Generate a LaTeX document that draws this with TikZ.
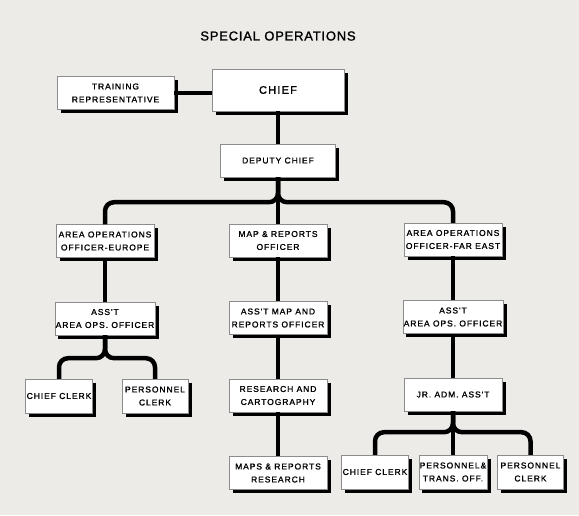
\documentclass[tikz,border=0pt]{standalone}
\usepackage{fontspec}
\setmainfont{Liberation Sans}[LetterSpace=11, FakeBold=1.3, Ligatures=TeXOff]
\newfontfamily\titlefont{Liberation Sans}[LetterSpace=6, FakeBold=1.2]
\usetikzlibrary{positioning, calc, shadows}
\definecolor{paper}{RGB}{236,235,231}
\definecolor{rim}{RGB}{140,140,140}
\tikzset{
  post/.style={draw=rim, line width=0.4pt, fill=white, align=center,
    inner sep=1pt, font=\fontsize{8.5}{13}\selectfont,
    drop shadow={shadow xshift=3.5pt, shadow yshift=-3.5pt, fill=black, opacity=1},
    minimum width=98pt, minimum height=33pt},
  clerk/.style={post, minimum width=66pt, minimum height=34pt},
  trunk/.style={line width=4.5pt, rounded corners=9pt}
}

\begin{document}
\begin{tikzpicture}[
					x=1pt, y=1pt,
					node distance=77.5pt
					]
					\fill[paper] (0,0) rectangle (579,-515);
					\useasboundingbox (0,0) rectangle (579,-515);

					% Title
					\node (Title) at (278,-36) {\titlefont\fontsize{13}{15}\selectfont SPECIAL OPERATIONS};

					% Nodes
					\node [post, minimum width=132pt, minimum height=42pt, font=\fontsize{11}{13}\selectfont] (Chief) at (278,-90) {CHIEF};
					\node [post, minimum width=117pt] (Training) at (115.5,-93) {TRAINING\\REPRESENTATIVE};
					\node [post, minimum width=115pt] (Deputy) at (278,-160.5) {DEPUTY CHIEF};
					\node [post] (EurOff) at (105,-241) {AREA OPERATIONS\\OFFICER-EUROPE};
					\node [post] (MapOff) at (278,-240.5) {MAP \& REPORTS\\OFFICER};
					\node [post] (FarOff) at (453,-239.5) {AREA OPERATIONS\\OFFICER-FAR EAST};
					\node [post, below of=EurOff] (EurAsst) {ASS'T\\AREA OPS. OFFICER};
					\node [post, below of=MapOff] (MapAsst) {ASS'T MAP AND\\REPORTS OFFICER};
					\node [post, below of=FarOff] (FarAsst) {ASS'T\\AREA OPS. OFFICER};
					\node [post, below of=MapAsst] (Cartography) {RESEARCH AND\\CARTOGRAPHY};
					\node [post, below of=FarAsst] (JrAdm) {JR. ADM. ASS'T};
					\node [post, below of=Cartography] (MapsResearch) {MAPS \& REPORTS\\RESEARCH};

					% Child nodes
					\node [clerk, below of=EurAsst, xshift=-46pt] (EurClerk) {CHIEF CLERK};
					\node [clerk, below of=EurAsst, xshift=50pt] (EurPersonnel) {PERSONNEL\\CLERK};
					\node [clerk, below of=JrAdm, xshift=-78pt] (FarClerk) {CHIEF CLERK};
					\node [clerk, below of=JrAdm] (FarTrans) {PERSONNEL\&\\TRANS. OFF.};
					\node [clerk, below of=JrAdm, xshift=77.5pt] (FarPersonnel) {PERSONNEL\\CLERK};

					% Forks
					\coordinate (TopFork) at ($(Deputy.south)+(0,-25)$);
					\coordinate (EurFork) at ($(EurAsst.south)+(0,-23)$);
					\coordinate (FarFork) at ($(JrAdm.south)+(0,-21)$);

					% Edges
					\draw [trunk] (Training.east) -- (Training.east -| Chief.west);
					\draw [trunk] (Chief.south) -- (Deputy.north);
					\draw [trunk] (EurOff.north) |- (TopFork) -- (Deputy.south);
					\draw [trunk] (FarOff.north) |- (TopFork) -- (Deputy.south);
					\draw [trunk] (Deputy.south) -- (MapOff.north);
					\draw [trunk] (EurOff.south) -- (EurAsst.north);
					\draw [trunk] (MapOff.south) -- (MapAsst.north);
					\draw [trunk] (FarOff.south) -- (FarAsst.north);
					\draw [trunk] (MapAsst.south) -- (Cartography.north);
					\draw [trunk] (Cartography.south) -- (MapsResearch.north);
					\draw [trunk] (FarAsst.south) -- (JrAdm.north);
					\draw [trunk] (EurClerk.north) |- (EurFork) -- (EurAsst.south);
					\draw [trunk] (EurPersonnel.north) |- (EurFork) -- (EurAsst.south);
					\draw [trunk] (FarClerk.north) |- (FarFork) -- (JrAdm.south);
					\draw [trunk] (FarPersonnel.north) |- (FarFork) -- (JrAdm.south);
					\draw [trunk] (JrAdm.south) -- (FarTrans.north);
				\end{tikzpicture}
\end{document}
